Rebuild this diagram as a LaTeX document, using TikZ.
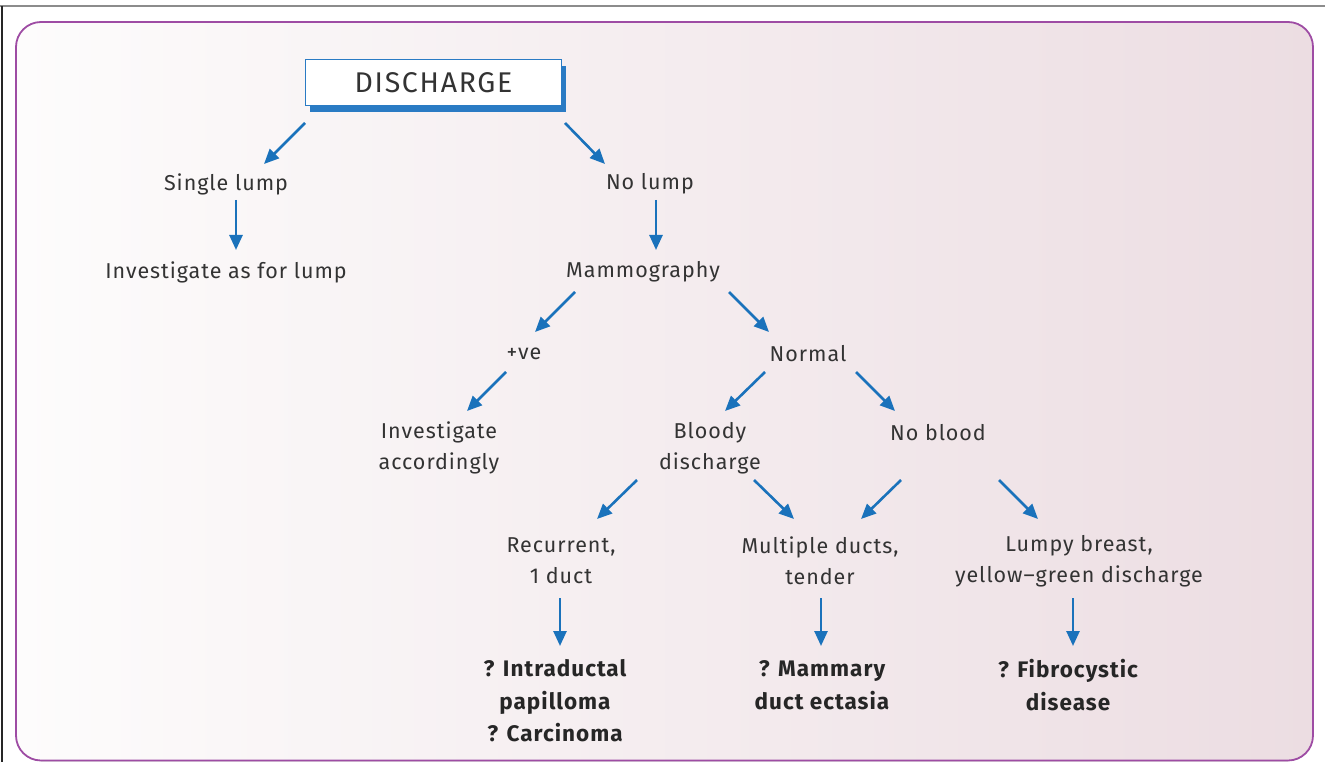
\documentclass[tikz,border=0pt]{standalone}
\usepackage{fontspec}
\setmainfont{Fira Sans}
\newfontfamily\lblfont[LetterSpace=4.5]{Fira Sans}
\newfontfamily\titlefont[LetterSpace=6]{Fira Sans}
\usetikzlibrary{arrows.meta}
\definecolor{arrowblue}{HTML}{1A72BB}
\definecolor{boxblue}{HTML}{2A7BC4}
\definecolor{framepurple}{HTML}{9E4CA4}
\definecolor{bgleft}{HTML}{FDFCFC}
\definecolor{bgright}{HTML}{ECDDE2}
\definecolor{inkgray}{HTML}{333333}
\tikzset{
  lbl/.style={font=\lblfont\fontsize{21.5}{31}\selectfont, text=inkgray, align=center, inner sep=0pt},
  outcome/.style={font=\lblfont\fontsize{22.5}{32.5}\selectfont\bfseries, text=black!85, align=center, inner sep=0pt},
  arr/.style={draw=arrowblue, line width=2.6pt, -{Triangle[length=15pt,width=13pt]}},
}
\begin{document}
\begin{tikzpicture}[x=1pt,y=-1pt]
\useasboundingbox (0,0) rectangle (1325,762);
% page rules
\draw[line width=2pt, black!45] (0,6) -- (1325,6);
\draw[line width=1.5pt, black!85] (2,6) -- (2,762);
% panel
\fill[left color=bgleft, right color=bgright, rounded corners=25pt] (16,22) rectangle (1313,761);
\draw[framepurple, line width=1.8pt, rounded corners=25pt] (16,22) rectangle (1313,760.5);
% title box with offset shadow
\fill[boxblue] (310,66) rectangle (566,112);
\node[draw=boxblue, line width=1.4pt, fill=white, minimum width=256pt, minimum height=46pt,
      font=\titlefont\fontsize{28.5}{30}\selectfont, text=inkgray] (disc) at (433.5,82.5) {DISCHARGE};
% labels
\node[lbl] (single)  at (226,184) {Single lump};
\node[lbl] (nolump)  at (650,184) {No lump};
\node[lbl] (invlump) at (226,272) {Investigate as for lump};
\node[lbl] (mammo)   at (643,272) {Mammography};
\node[lbl] (pos)     at (524,354) {+ve};
\node[lbl] (normal)  at (808,354) {Normal};
\node[lbl] (invacc)  at (439,448) {Investigate\\accordingly};
\node[lbl] (bloody)  at (710,448) {Bloody\\discharge};
\node[lbl] (noblood) at (938,433) {No blood};
\node[lbl] (recur)   at (561,561) {Recurrent,\\1 duct};
\node[lbl] (multi)   at (820,561) {Multiple ducts,\\tender};
\node[lbl] (lumpy)   at (1079,561) {Lumpy breast,\\yellow–green discharge};
\node[outcome] (intra)   at (555,701) {? Intraductal\\papilloma\\? Carcinoma};
\node[outcome] (ectasia) at (822,685) {? Mammary\\duct ectasia};
\node[outcome] (fibro)   at (1068,685) {? Fibrocystic\\disease};
% connectors
\draw[arr] ([shift={(-128.5,40.5)}]disc.center) -- ([shift={(38,-20)}]single.center);
\draw[arr] ([shift={(131.5,40.5)}]disc.center) -- ([shift={(-45,-20)}]nolump.center);
\draw[arr] ([shift={(10,16)}]single.center) -- ([shift={(10,-22)}]invlump.center);
\draw[arr] ([shift={(6,16)}]nolump.center) -- ([shift={(13,-22)}]mammo.center);
\draw[arr] ([shift={(-68,20)}]mammo.center) -- ([shift={(11,-22)}]pos.center);
\draw[arr] ([shift={(86,20)}]mammo.center) -- ([shift={(-39,-22)}]normal.center);
\draw[arr] ([shift={(-18,18)}]pos.center) -- ([shift={(28,-37)}]invacc.center);
\draw[arr] ([shift={(-43,18)}]normal.center) -- ([shift={(15,-37)}]bloody.center);
\draw[arr] ([shift={(48,18)}]normal.center) -- ([shift={(-43,-22)}]noblood.center);
\draw[arr] ([shift={(-73,32)}]bloody.center) -- ([shift={(36,-42)}]recur.center);
\draw[arr] ([shift={(44,32)}]bloody.center) -- ([shift={(-26,-42)}]multi.center);
\draw[arr] ([shift={(-37,47)}]noblood.center) -- ([shift={(41,-42)}]multi.center);
\draw[arr] ([shift={(61,47)}]noblood.center) -- ([shift={(-41,-42)}]lumpy.center);
\draw[arr] ([shift={(-1,37)}]recur.center) -- ([shift={(5,-55)}]intra.center);
\draw[arr] ([shift={(1,37)}]multi.center) -- ([shift={(-1,-39)}]ectasia.center);
\draw[arr] ([shift={(-6,37)}]lumpy.center) -- ([shift={(5,-39)}]fibro.center);
\end{tikzpicture}
\end{document}
